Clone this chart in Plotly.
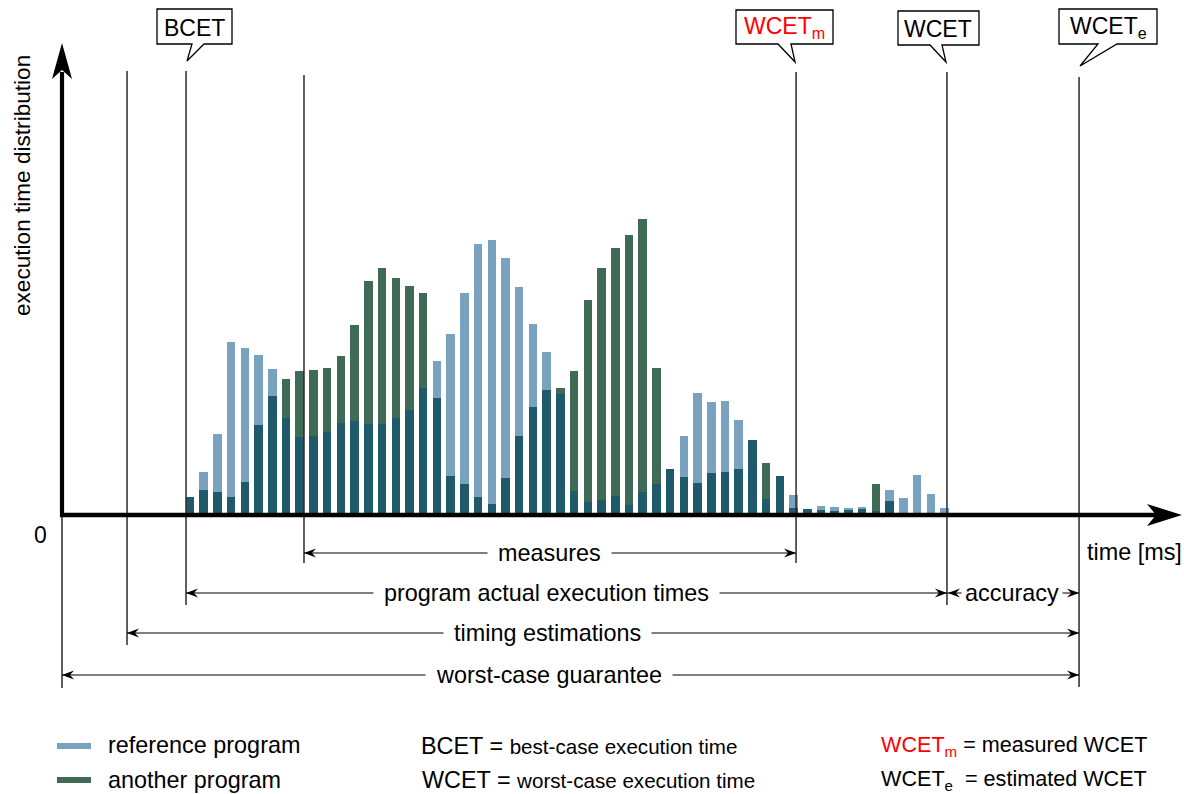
import plotly.graph_objects as go

# ---------------- data (bar heights) ----------------
ref_program = [18, 43, 81, 173, 167, 160, 146, 97, 78, 79, 83, 92, 94, 91, 91, 97,
               105, 127, 154, 181, 222, 271, 275, 257, 228, 191, 163, 121, 24, 13,
               15, 19, 10, 23, 31, 46, 79, 122, 113, 114, 95, 75, 16, 39, 20, 6,
               9, 8, 7, 8, 4, 25, 17, 40, 21, 7]
another_program = [18, 25, 23, 18, 33, 90, 119, 136, 144, 145, 147, 159, 190, 234, 247, 237,
                   229, 222, 117, 39, 31, 18, 11, 37, 79, 108, 125, 127, 144, 215,
                   247, 267, 280, 296, 147, 46, 38, 32, 42, 43, 46, 75, 52, 39, 7, 6,
                   5, 4, 5, 6, 31, 14, 0, 0, 0, 0]
time_bins = list(range(len(ref_program)))
overlap = [min(a, b) for a, b in zip(ref_program, another_program)]

# marker times (in bin units)
T_ORIGIN = -9.33
T_EST_START = -4.59
T_BCET = -0.29
T_MEAS_START = 8.31
T_WCET_M = 44.18
T_WCET = 55.18
T_WCET_E = 64.81

C_REF = "#78A2BE"
C_ANOTHER = "#3F6B56"
C_BOTH = "#1F5A6B"
FONT = "Liberation Sans, Arial, sans-serif"

W, H = 1184, 794
X_RANGE = [-13.85, 72.46]
Y_RANGE = [-279, 515]


def tx(t):
    return (t - X_RANGE[0]) / (X_RANGE[1] - X_RANGE[0]) * W


def ty(v):
    return (Y_RANGE[1] - v) / (Y_RANGE[1] - Y_RANGE[0]) * H


X0 = tx(T_ORIGIN)
XE = tx(T_EST_START)
XB = tx(T_BCET)
XMS = tx(T_MEAS_START)
XWM = tx(T_WCET_M)
XW = tx(T_WCET)
XWE = tx(T_WCET_E)
YB = ty(0)

fig = go.Figure()
fig.add_trace(go.Bar(x=time_bins, y=ref_program, width=0.62, marker=dict(color=C_REF, line_width=0),
                     name="reference program", hoverinfo="skip"))
fig.add_trace(go.Bar(x=time_bins, y=another_program, width=0.62, marker=dict(color=C_ANOTHER, line_width=0),
                     name="another program", hoverinfo="skip"))
fig.add_trace(go.Bar(x=time_bins, y=overlap, width=0.62, marker=dict(color=C_BOTH, line_width=0),
                     name="both", hoverinfo="skip"))

shapes = []
annotations = []


def P(x, y):
    return f"{x / W:.5f},{1 - y / H:.5f}"


def line(x0, y0, x1, y1, w=1.3, c="black"):
    shapes.append(dict(type="line", xref="paper", yref="paper", x0=x0 / W, y0=1 - y0 / H,
                       x1=x1 / W, y1=1 - y1 / H, line=dict(color=c, width=w), layer="above"))


def poly(pts, fill="black", lc="black", lw=0):
    path = "M " + " L ".join(P(*p) for p in pts) + " Z"
    shapes.append(dict(type="path", xref="paper", yref="paper", path=path, fillcolor=fill,
                       line=dict(color=lc, width=lw), layer="above"))


def rect(x0, y0, x1, y1, fill):
    shapes.append(dict(type="rect", xref="paper", yref="paper", x0=x0 / W, y0=1 - y0 / H,
                       x1=x1 / W, y1=1 - y1 / H, fillcolor=fill, line=dict(width=0)))


def text(x, y, s, size=23.4, xanchor="center", color="black", bg=None, pad=0, angle=0):
    d = dict(x=x / W, y=1 - y / H, xref="paper", yref="paper", text=s, showarrow=False,
             xanchor=xanchor, yanchor="middle", font=dict(family=FONT, size=size, color=color),
             borderpad=pad, textangle=angle)
    if bg:
        d["bgcolor"] = bg
    annotations.append(d)


def head(x, y, d):
    poly([(x, y), (x - d * 12, y - 4.5), (x - d * 8, y), (x - d * 12, y + 4.5)])


# vertical marker lines
VC = "#2a2a2a"
line(X0, YB, X0, 688, 1.5, VC)
line(XE, 71, XE, 645, 1.5, VC)
line(XB, 71, XB, 605, 1.5, VC)
line(XMS, 75, XMS, 563, 1.5, VC)
line(XWM, 72, XWM, 563, 1.5, VC)
line(XW, 72, XW, 605, 1.5, VC)
line(XWE, 77, XWE, 687, 1.5, VC)

# axes with arrows
line(X0, YB + 2, X0, 72, 4.2)
poly([(X0, 43), (X0 + 10, 79), (X0, 70), (X0 - 10, 79)])
line(X0 - 2, YB, 1158, YB, 4.5)
poly([(1182, YB), (1147, YB - 11), (1156, YB), (1147, YB + 11)])

# dimension lines (start, end, y, label, label centre)
dims = [
    (XMS, XWM, 553, "measures", 549),
    (XB, XW, 593, "program actual execution times", 546),
    (XE, XWE, 633, "timing estimations", 547),
    (X0, XWE, 675, "worst-case guarantee", 549),
]
for xa, xb, y, s, xc in dims:
    line(xa, y, xb, y, 1.2)
    head(xa, y, -1)
    head(xb, y, 1)
    text(xc, y, s, bg="white", pad=10)

# accuracy
line(XW, 593, XWE, 593, 1.2)
head(XW + 1, 593, -1)
head(XWE, 593, 1)
text(1012, 593, "accuracy", bg="white", pad=3)

# callouts
callouts = [
    (157, 232, 9, 44, (192, 204), (XB + 1, 61), "BCET"),
    (736, 833, 10, 44, (778, 791), (XWM - 1, 62), "<span style='color:#ff0000'>WCET<sub>m</sub></span>"),
    (898, 979, 11, 45, (930, 942), (XW - 1, 62), "WCET"),
    (1059, 1157, 9, 44, (1098, 1117), (XWE + 1, 66), "WCET<sub>e</sub>"),
]
for x0, x1, y0, y1, (tl, tr), tip, s in callouts:
    poly([(x0, y0), (x1, y0), (x1, y1), (tr, y1), tip, (tl, y1), (x0, y1)],
         fill="white", lc="black", lw=1.3)
    text((x0 + x1) / 2, (y0 + y1) / 2 + 1, s, size=23)

# axis labels
text(40, 535, "0", size=23)
text(1134, 552, "time [ms]")
text(22, 186, "execution time distribution", size=22.6, angle=-90)

# legend
rect(57, 743, 91, 749, C_REF)
rect(57, 777, 91, 783, C_ANOTHER)
text(107, 745, "reference program", xanchor="left")
text(107, 780, "another program", xanchor="left")
text(420, 746, "BCET = <span style='font-size:20.6px'>best-case execution time</span>", xanchor="left")
text(421, 780, "WCET = <span style='font-size:20.6px'>worst-case execution time</span>", xanchor="left")
text(880, 746, "<span style='color:#ff0000'>WCET<sub>m</sub></span> = measured WCET", size=21.6, xanchor="left")
text(880, 780, "WCET<sub>e</sub>  = estimated WCET", size=21.6, xanchor="left")

fig.update_layout(
    width=W, height=H, margin=dict(l=0, r=0, t=0, b=0),
    paper_bgcolor="white", plot_bgcolor="white",
    barmode="overlay", bargap=0, showlegend=False,
    xaxis=dict(range=X_RANGE, visible=False, fixedrange=True),
    yaxis=dict(range=Y_RANGE, visible=False, fixedrange=True),
    shapes=shapes, annotations=annotations,
    font=dict(family=FONT),
)

fig.write_html("out.html", config={"displayModeBar": False},
               post_script="document.body.style.margin='0';document.body.style.overflow='hidden';")
